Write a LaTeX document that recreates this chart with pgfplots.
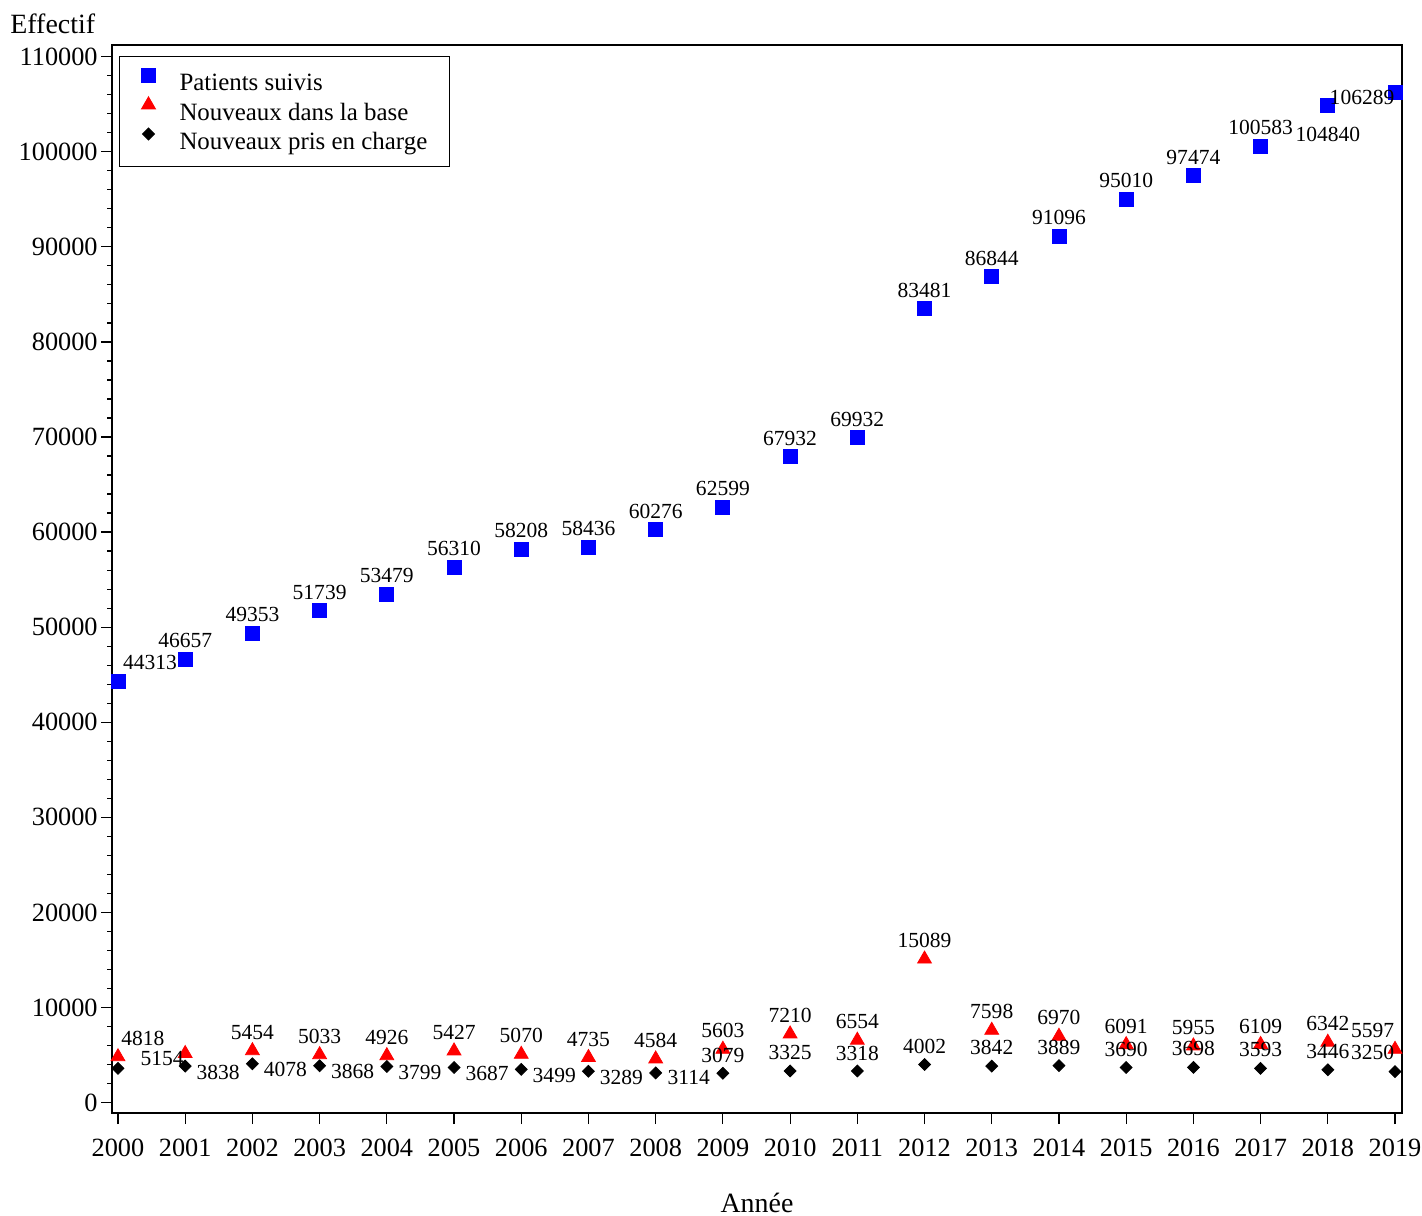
\documentclass[border=0pt]{standalone}
\usepackage{fontspec}
\setmainfont{Liberation Serif}
\usepackage{pgfplots}
\usepackage{pgfplotstable}
\pgfplotsset{compat=1.18}

% x = year, y = value, dx/dy = label offset in bp
\pgfplotstableread{
x y dx dy
2000 44313 16 9.5
2001 46657 0 9.25
2002 49353 0 9.25
2003 51739 0 9.25
2004 53479 0 9.25
2005 56310 0 9.25
2006 58208 0 9.25
2007 58436 0 9.25
2008 60276 0 9.25
2009 62599 0 9.25
2010 67932 0 9.25
2011 69932 0 9.25
2012 83481 0 9.25
2013 86844 0 9.25
2014 91096 0 9.25
2015 95010 0 9.25
2016 97474 0 9.25
2017 100583 0 9.25
2018 104840 0 -14.5
2019 106289 -16.5 -2.5
}\suivis

\pgfplotstableread{
x y dx dy
2000 4818 12.5 9
2001 5154 -11.5 -2.5
2002 5454 0 9.25
2003 5033 0 9.25
2004 4926 0 9.25
2005 5427 0 9.25
2006 5070 0 9.25
2007 4735 0 9.25
2008 4584 0 9.25
2009 5603 0 9.25
2010 7210 0 9.25
2011 6554 0 9.25
2012 15089 0 9.25
2013 7598 0 9.25
2014 6970 0 9.25
2015 6091 0 9.25
2016 5955 0 9.25
2017 6109 0 9.25
2018 6342 0 9.25
2019 5597 -11.25 9.25
}\nouveauxbase

\pgfplotstableread{
x y dx dy
2001 3838 16.5 -3
2002 4078 16.5 -3
2003 3868 16.5 -3
2004 3799 16.5 -3
2005 3687 16.5 -3
2006 3499 16.5 -3
2007 3289 16.5 -3
2008 3114 16.5 -2.5
2009 3079 0 9
2010 3325 0 9
2011 3318 0 9
2012 4002 0 9.25
2013 3842 0 9.25
2014 3889 0 9.25
2015 3690 0 9.25
2016 3698 0 9.25
2017 3593 0 9.25
2018 3446 0 9
2019 3250 -11.25 9.5
}\nouveauxpec

\pgfplotsset{
  lbl/.style={
    point meta=explicit symbolic,
    nodes near coords,
    visualization depends on={\thisrow{dx} \as \labdx},
    visualization depends on={\thisrow{dy} \as \labdy},
    nodes near coords style={anchor=center, inner sep=0pt,
        xshift=\labdx*1bp, yshift=\labdy*1bp,
        font=\fontsize{10.8}{12}\selectfont, text=black},
  },
  diam/.style={only marks, mark=square*, mark size=2.1bp, color=black,
    mark options={draw=black, fill=black, rotate=45}},
}

\begin{document}
\begin{tikzpicture}
\begin{axis}[
    name=ax,
    scale only axis,
    width=645bp, height=534bp,
    xmin=1999.911, xmax=2019.104,
    ymin=-1100, ymax=111230,
    xtick={2000,2001,...,2019},
    ytick={0,10000,...,110000},
    scaled y ticks=false,
    yticklabel={\pgfmathprintnumber[fixed,precision=0,1000 sep={}]{\tick}},
    minor y tick num=4,
    axis line style={line width=0.6bp},
    tick style={line width=0.6bp, black},
    tick align=outside,
    xtick pos=bottom, ytick pos=left,
    major tick length=5.5bp,
    minor tick length=2.5bp,
    /pgf/number format/1000 sep={},
    /pgf/number format/assume math mode=true,
    tick label style={font=\fontsize{13.2}{15}\selectfont},
    yticklabel style={inner sep=1.5bp},
    xticklabel style={yshift=-4bp},
    every axis y label/.style={at={(axis description cs:0,1)}, anchor=base west,
        inner sep=0pt, xshift=-51bp, yshift=5.85bp},
    every axis x label/.style={at={(axis description cs:0.5,0)}, anchor=base,
        inner sep=0pt, yshift=-49.5bp},
    label style={font=\fontsize{14}{16}\selectfont},
    xlabel={Année},
    ylabel={Effectif},
    legend style={at={(axis description cs:0,1)}, anchor=north west,
        xshift=3.5bp, yshift=-5.5bp, draw=black, line width=0.5bp,
        inner xsep=11bp, inner ysep=5.75bp,
        font=\fontsize{12.5}{14.5}\selectfont,
        nodes={inner xsep=0pt, inner ysep=1.5bp, text height=10bp, text depth=1.5bp},
        column sep=12bp, row sep=0bp},
    legend cell align=left,
    legend image code/.code={\draw[#1] plot coordinates {(0bp,3.5bp)};},
    clip=false,
]
\addplot[only marks, mark=square*, mark size=3.5bp, color=blue,
    mark options={draw=blue, fill=blue}, lbl]
    table[x=x, y=y, meta=y] {\suivis};
\addplot[only marks, mark=triangle*, mark size=4bp, color=red,
    mark options={draw=red, fill=red}, lbl]
    table[x=x, y=y, meta=y] {\nouveauxbase};
\addplot[diam, lbl]
    table[x=x, y=y, meta=y] {\nouveauxpec};
% 2000 point has no label in the original
\addplot[diam, forget plot]
    coordinates {(2000,3600)};
\legend{Patients suivis, Nouveaux dans la base, Nouveaux pris en charge}
\end{axis}
\pgfresetboundingbox
\path ([xshift=-56bp, yshift=-51.5bp]ax.south west) rectangle ([xshift=10bp, yshift=22.5bp]ax.north east);
\end{tikzpicture}
\end{document}
